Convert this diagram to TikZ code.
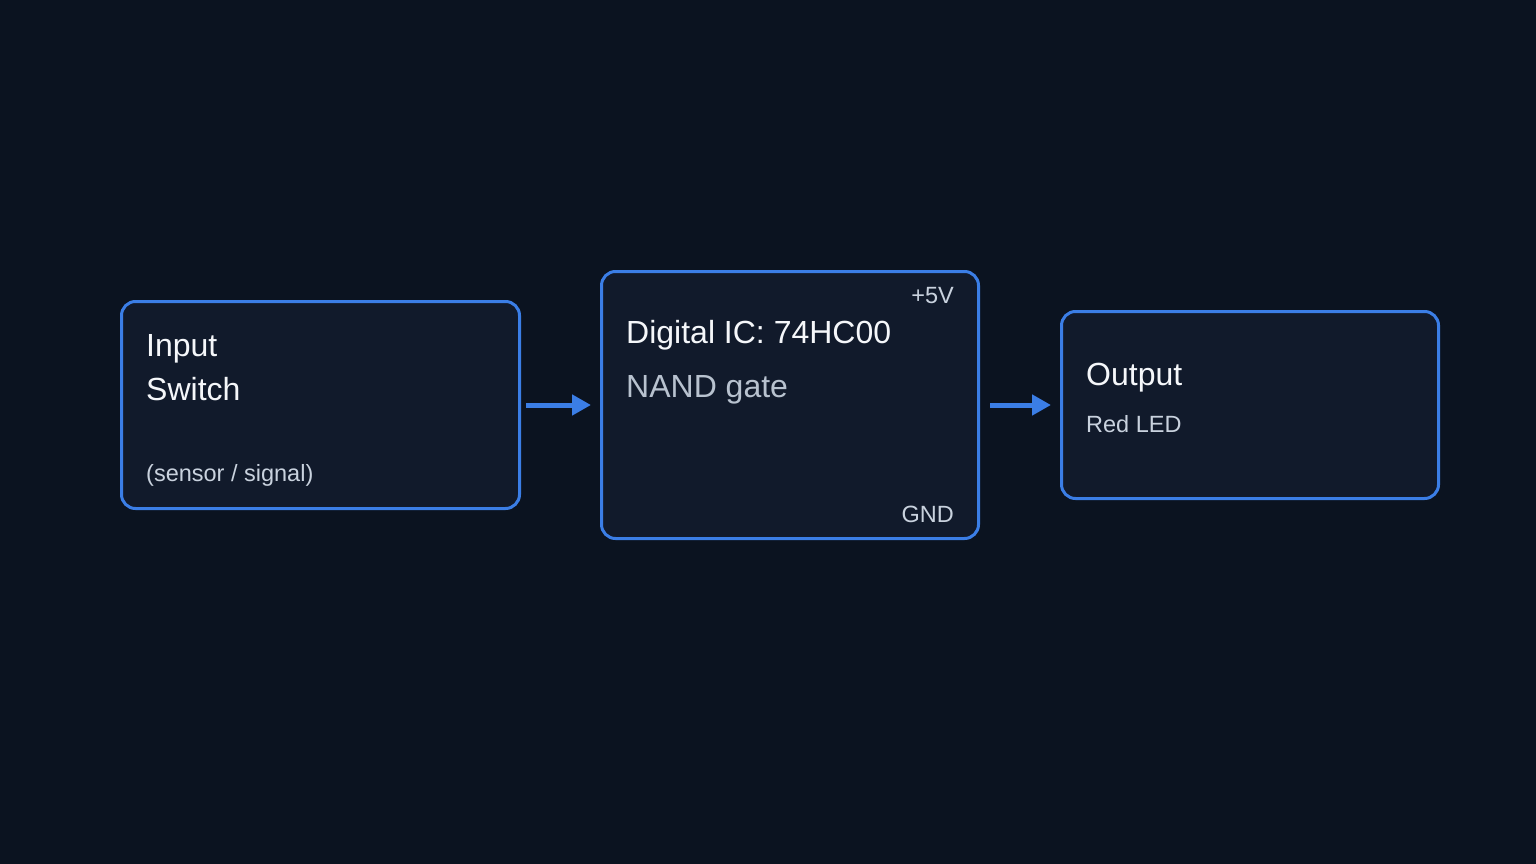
\documentclass[tikz,border=0pt]{standalone}
\usepackage{fontspec}
\setmainfont{Liberation Sans}
\usetikzlibrary{arrows.meta}

\definecolor{bgdark}{HTML}{0B1320}
\definecolor{boxfill}{HTML}{111A2B}
\definecolor{edgeblue}{HTML}{3B7EE6}
\definecolor{titletext}{HTML}{F5F7FA}
\definecolor{subtext}{HTML}{C9D2DE}
\definecolor{gatetext}{HTML}{B8C2CF}

\tikzset{
    block/.style={draw=edgeblue, fill=boxfill, line width=3pt,
        rounded corners=14pt, inner sep=0pt},
    title/.style={anchor=base west, inner sep=0pt, text=titletext,
        font=\fontsize{32}{38}\selectfont},
    small/.style={anchor=base west, inner sep=0pt, text=subtext,
        font=\fontsize{23.5}{28}\selectfont},
    flow/.style={draw=edgeblue, line width=5pt,
        -{Triangle[length=19pt,width=20pt]}}
}

\begin{document}
\begin{tikzpicture}[x=1pt, y=-1pt]

    % Background
    \fill[bgdark] (0,0) rectangle (1536,864);
    \useasboundingbox (0,0) rectangle (1536,864);

    % Blocks
    \node[block, minimum width=398pt, minimum height=207pt] (inbox) at (320.5,405) {};
    \node[block, minimum width=377pt, minimum height=267pt] (icbox) at (790,405) {};
    \node[block, minimum width=377pt, minimum height=187pt] (outbox) at (1250,405) {};

    % Input text
    \node[title] (inname) at (146,356) {Input};
    \node[title] (intype) at (146,400) {Switch};
    \node[small] (innote) at (146,481) {(sensor / signal)};

    % IC text
    \node[title] (icname) at (626,343) {Digital IC: 74HC00};
    \node[title, text=gatetext] (ictype) at (626,397) {NAND gate};
    \node[small, anchor=base east] (icvcc) at (954,303) {+5V};
    \node[small, anchor=base east] (icgnd) at (954,522) {GND};

    % Output text
    \node[title] (outname) at (1086,385) {Output};
    \node[small] (outtype) at (1086,432) {Red LED};

    % Signal flow
    \draw[flow, shorten <=5pt, shorten >=9pt] (inbox.east) -- (icbox.west);
    \draw[flow, shorten <=10pt, shorten >=9pt] (icbox.east) -- (outbox.west);

\end{tikzpicture}
\end{document}
